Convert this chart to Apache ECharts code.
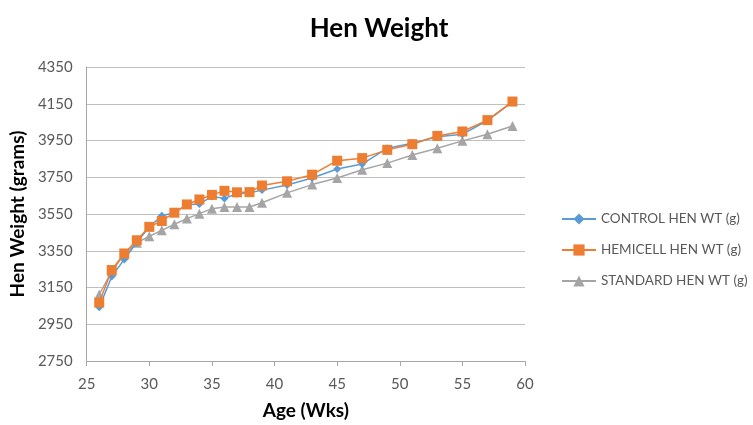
<!DOCTYPE html>
<html><head><meta charset="utf-8">
<script src="https://cdn.jsdelivr.net/npm/echarts@6/dist/echarts.min.js"></script>
<style>html,body{margin:0;padding:0;background:#fff}#c{width:753px;height:425px}</style>
</head><body><div id="c"></div>
<script>
const weeks = [26,27,28,29,30,31,32,33,34,35,36,37,38,39,41,43,45,47,49,51,53,55,57,59];
const control = [3042,3210,3303,3395,3480,3540,3557,3600,3605,3645,3635,3660,3665,3680,3708,3746,3795,3822,3908,3935,3970,3984,4058,4160];
const hemicell = [3068,3245,3335,3407,3480,3512,3557,3602,3629,3654,3676,3668,3669,3705,3728,3764,3840,3854,3899,3930,3975,3999,4061,4162];
const standard = [3112,3238,3330,3393,3429,3461,3494,3525,3552,3579,3588,3588,3588,3611,3665,3710,3746,3791,3827,3871,3908,3948,3984,4029];
const seriesNames = ['CONTROL HEN WT (g)','HEMICELL HEN WT (g)','STANDARD HEN WT (g)'];
const pairs = a => weeks.map((w,i)=>[w,a[i]]);
const font = 'Lato, "Open Sans", sans-serif';
const chart = echarts.init(document.getElementById('c'));
chart.setOption({
  animation:false,
  title:{text:'Hen Weight',left:374,top:11,textAlign:'center',textStyle:{fontFamily:font,fontSize:26,fontWeight:'bold',color:'#000'}},
  grid:{left:86,right:228,top:67,bottom:62,containLabel:false},
  legend:{orient:'vertical',left:556,top:207,itemWidth:34,itemHeight:14,itemGap:17,
    textStyle:{fontFamily:font,fontSize:13.5,color:'#595959'},data:seriesNames},
  xAxis:{type:'value',min:25,max:60,interval:5,name:'Age (Wks)',nameLocation:'middle',nameGap:40,
    nameTextStyle:{fontFamily:font,fontSize:19,fontWeight:'bold',color:'#000'},
    axisLine:{lineStyle:{color:'#a6a6a6'}},axisTick:{show:true,length:5,lineStyle:{color:'#a6a6a6'}},
    axisLabel:{fontFamily:font,fontSize:15,color:'#595959',margin:16},splitLine:{show:false}},
  yAxis:{type:'value',min:2750,max:4350,interval:200,name:'Hen Weight (grams)',nameLocation:'middle',nameGap:58,
    nameTextStyle:{fontFamily:font,fontSize:19,fontWeight:'bold',color:'#000'},
    axisLine:{show:true,lineStyle:{color:'#a6a6a6'}},axisTick:{show:false},
    axisLabel:{fontFamily:font,fontSize:15,color:'#595959',margin:14,formatter:v=>String(v)},
    splitLine:{lineStyle:{color:'#bfbfbf',width:1}}},
  series:[
    {name:seriesNames[0],type:'line',data:pairs(control),symbol:'diamond',symbolSize:8,
      lineStyle:{color:'#5B9BD5',width:1.5},itemStyle:{color:'#5B9BD5'},z:3},
    {name:seriesNames[1],type:'line',data:pairs(hemicell),symbol:'rect',symbolSize:10,
      lineStyle:{color:'#ED7D31',width:1.5},itemStyle:{color:'#ED7D31'},z:4},
    {name:seriesNames[2],type:'line',data:pairs(standard),symbol:'triangle',symbolSize:10,
      lineStyle:{color:'#A5A5A5',width:1.5},itemStyle:{color:'#A5A5A5'},z:2}
  ]
});
</script></body></html>
